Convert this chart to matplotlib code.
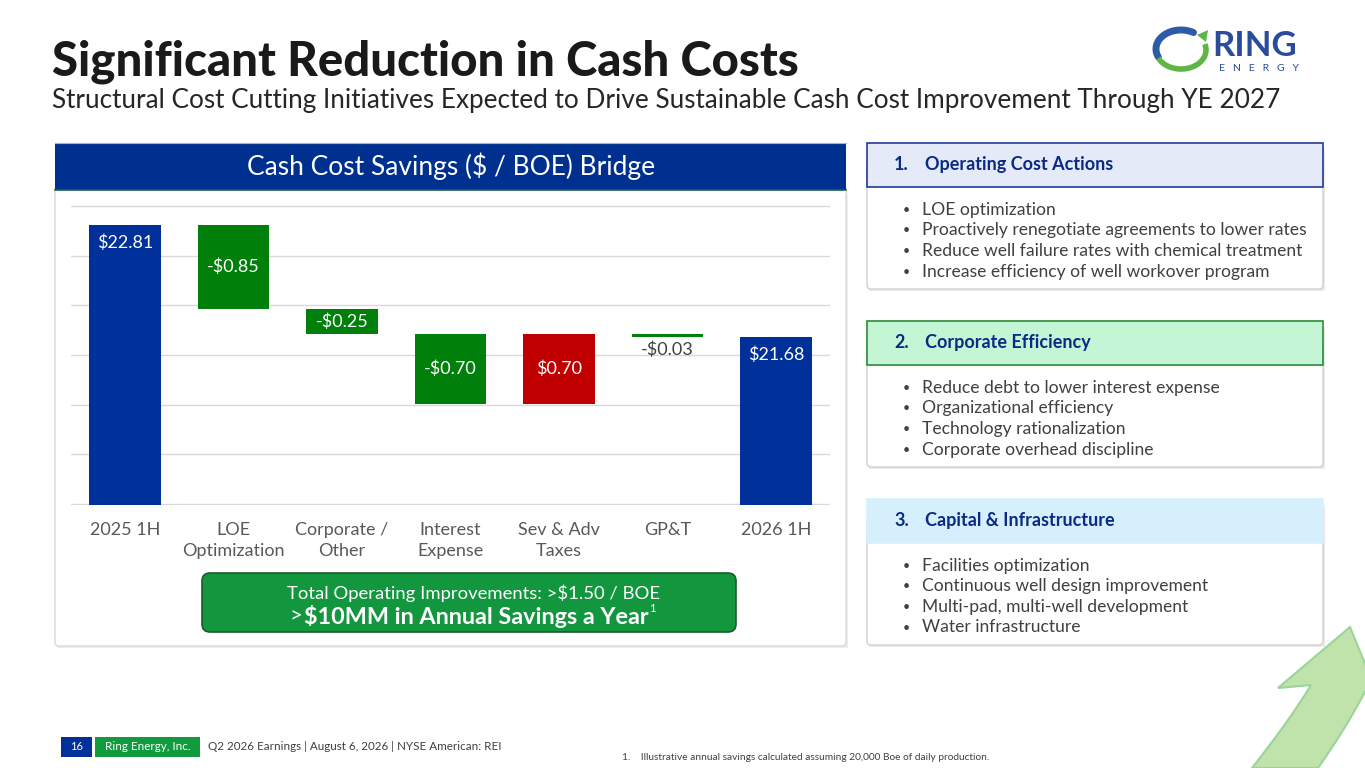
import numpy as np
import matplotlib.pyplot as plt
from matplotlib import font_manager
from matplotlib.patches import FancyBboxPatch, Rectangle, Polygon, PathPatch
from matplotlib.path import Path

plt.rcParams['font.family'] = ['Lato', 'DejaVu Sans']
plt.rcParams['text.parse_math'] = False

avail = {f.name for f in font_manager.fontManager.ttflist}
COND = ['Liberation Sans Narrow', 'Lato', 'DejaVu Sans'] if 'Liberation Sans Narrow' in avail else ['Lato', 'DejaVu Sans']

# waterfall data ($ / BOE)
categories = ["2025 1H", "LOE\nOptimization", "Corporate /\nOther", "Interest\nExpense",
              "Sev & Adv\nTaxes", "GP&T", "2026 1H"]
start_value = 22.81
changes = [-0.85, -0.25, -0.70, 0.70, -0.03]
end_value = 21.68

# right hand side text
panels = [
    ("1.", "Operating Cost Actions", ["LOE optimization",
                                      "Proactively renegotiate agreements to lower rates",
                                      "Reduce well failure rates with chemical treatment",
                                      "Increase efficiency of well workover program"]),
    ("2.", "Corporate Efficiency", ["Reduce debt to lower interest expense",
                                    "Organizational efficiency",
                                    "Technology rationalization",
                                    "Corporate overhead discipline"]),
    ("3.", "Capital & Infrastructure", ["Facilities optimization",
                                        "Continuous well design improvement",
                                        "Multi-pad, multi-well development",
                                        "Water infrastructure"]),
]

BLUE = '#00309A'
GREEN = '#007F0A'
RED = '#C00000'
TXT = '#404040'

W, H = 1365, 768
fig = plt.figure(figsize=(13.65, 7.68), dpi=100)

# overlay axes in pixel coordinates for slide decoration
ov = fig.add_axes([0, 0, 1, 1], zorder=0)
ov.set_xlim(0, W)
ov.set_ylim(H, 0)
ov.axis('off')


def rbox(x0, y0, x1, y1, fc, ec, r=4, lw=1.0, z=1):
    p = FancyBboxPatch((x0, y0), x1 - x0, y1 - y0, boxstyle=f"round,pad=0,rounding_size={r}",
                       fc=fc, ec=ec, lw=lw, zorder=z)
    ov.add_patch(p)
    return p


# title
ov.text(52, 75, "Significant Reduction in Cash Costs", fontsize=34, fontweight='black',
        color='#1A1A1A', va='baseline', ha='left')
ov.text(52, 108, "Structural Cost Cutting Initiatives Expected to Drive Sustainable Cash Cost Improvement Through YE 2027",
        fontsize=18.8, color='#262626', va='baseline', ha='left')

# logo
cx, cy, a, b = 1181, 49, 25, 19
t = np.linspace(np.radians(60), np.radians(205), 60)
ov.plot(cx + a * np.cos(t), cy - b * np.sin(t), color='#2D5BA8', lw=5, solid_capstyle='round', zorder=3)
t = np.linspace(np.radians(205), np.radians(378), 60)
ov.plot(cx + a * np.cos(t), cy - b * np.sin(t) + 1, color='#5DB646', lw=4, solid_capstyle='butt', zorder=3)
ov.add_patch(Polygon([[1197, 35], [1208, 30], [1206, 42]], closed=True, fc='#5DB646', ec='none', zorder=3))
ov.text(1212, 56, "RING", fontsize=25, fontweight='bold', color='#2B4C9B', va='baseline', ha='left')
ov.text(1219, 71, "E   N   E   R   G   Y", fontsize=7.5, color='#2B4C9B', va='baseline', ha='left')

# left panel
ov.add_patch(Rectangle((57, 193), 791, 455, fc='#EDEDED', ec='none', zorder=0.5))
rbox(55, 186, 846, 646, 'white', '#D9D9D9', r=4, z=1)
ov.add_patch(Rectangle((55, 143), 791, 47, fc='#00308F', ec='none', zorder=2))
ov.plot([55, 846], [190, 190], color='#1F5F4F', lw=1.2, zorder=2)
ov.plot([55, 846], [143, 143], color='#8FC9A8', lw=0.8, zorder=2)
ov.text(451, 166, "Cash Cost Savings ($ / BOE) Bridge", fontsize=19, color='white',
        ha='center', va='center', zorder=3)

# callout
rbox(202, 573, 736, 632, '#13973E', '#1D5A2C', r=8, lw=1.2, z=2)
ov.text(474, 593, "Total Operating Improvements: >$1.50 / BOE", fontsize=13.3, family=COND,
        color='white', ha='center', va='center', zorder=3)
l2a = ov.text(290, 616, ">", fontsize=16, color='white', ha='left', va='center', zorder=3)
l2b = ov.text(304, 616, "$10MM in Annual Savings a Year", fontsize=16.8, fontweight='bold',
              color='white', ha='left', va='center', zorder=3)
fig.canvas.draw()
bb = l2b.get_window_extent()
x_end = ov.transData.inverted().transform((bb.x1, bb.y0))[0]
ov.text(x_end + 1, 609, "1", fontsize=8, color='white', ha='left', va='center', zorder=3)

# right panels
hdr_styles = [('#E4EAF8', '#23399A'), ('#C4F5D4', '#2B8C36'), ('#D5F0FC', '#D5F0FC')]
tops = [143, 321, 499]
for (num, head, items), (fc, ec), y0 in zip(panels, hdr_styles, tops):
    ov.add_patch(Rectangle((869, y0 + 6), 456, 142, fc='#EBEBEB', ec='none', zorder=0.5))
    rbox(867, y0 + 20, 1323, y0 + 146, 'white', '#D0D0D0', r=4, z=1)
    ov.add_patch(Rectangle((867, y0), 456, 44, fc=fc, ec=ec, lw=1.2, zorder=2))
    ov.text(894, y0 + 27, num, fontsize=13, fontweight='bold', color='#0A2A84',
            ha='left', va='baseline', zorder=3)
    ov.text(925, y0 + 27, head, fontsize=13, fontweight='bold', color='#0A2A84',
            ha='left', va='baseline', zorder=3)
    for i, item in enumerate(items):
        yy = y0 + 67 + i * 20.5
        ov.text(903, yy, "\u2022", fontsize=9, color=TXT, ha='left', va='center', zorder=3)
        ov.text(922, yy, item, fontsize=12.6, color=TXT, ha='left', va='center', zorder=3)

# decorative arrow bottom right
verts = [(1252, 768), (1290, 720), (1311, 685), (1278, 688), (1350, 627), (1380, 700),
         (1366, 690), (1345, 730), (1318, 768), (1252, 768)]
codes = [Path.MOVETO, Path.CURVE3, Path.CURVE3, Path.LINETO, Path.LINETO, Path.LINETO,
         Path.LINETO, Path.CURVE3, Path.CURVE3, Path.CLOSEPOLY]
ov.add_patch(PathPatch(Path(verts, codes), fc='#BFE3AA', ec='#9BD49B', lw=1.5, zorder=1))

# footer
ov.add_patch(Rectangle((61, 737), 31, 20, fc=BLUE, ec='none'))
ov.text(76.5, 747, "16", fontsize=8, color='white', ha='center', va='center')
ov.add_patch(Rectangle((95, 737), 105, 20, fc='#119B3F', ec='none'))
ov.text(147.5, 747, "Ring Energy, Inc.", fontsize=8.4, color='white', ha='center', va='center')
ov.text(208, 747, "Q2 2026 Earnings | August 6, 2026 | NYSE American: REI", fontsize=8.4,
        color='#404040', ha='left', va='center')
ov.text(622, 758, "1.    Illustrative annual savings calculated assuming 20,000 Boe of daily production.",
        fontsize=7.3, color='#404040', ha='left', va='center')

# waterfall chart
ax = fig.add_axes([70.75 / W, (H - 505) / H, 759.5 / W, 300 / H], zorder=1)
ax.patch.set_alpha(0)

x = np.arange(len(categories))
levels = start_value + np.concatenate([[0], np.cumsum(changes)])
heights = [start_value] + [abs(c) for c in changes] + [end_value]
bottoms = [0] + [min(levels[i], levels[i + 1]) for i in range(len(changes))] + [0]
colors = [BLUE] + [GREEN if c < 0 else RED for c in changes] + [BLUE]
ax.bar(x, heights, bottom=bottoms, width=0.66, color=colors, zorder=3)

ax.set_xlim(-0.5, 6.5)
ax.set_ylim(19.99, 23.01)
ax.set_yticks(np.arange(20, 23.01, 0.5))
ax.yaxis.grid(True, color='#D9D9D9', lw=1)
ax.set_axisbelow(True)
ax.tick_params(axis='y', length=0, labelleft=False)
ax.tick_params(axis='x', length=0, pad=12, labelcolor='#595959')
ax.set_xticks(x)
ax.set_xticklabels(categories, fontsize=13, family=COND, linespacing=1.4, va='top')
for s in ax.spines.values():
    s.set_visible(False)

lbl = dict(fontsize=13, family=COND, ha='center', va='center', zorder=4)
ax.text(x[0], start_value - 0.18, f"${start_value:.2f}", color='white', **lbl)
ax.text(x[-1], end_value - 0.18, f"${end_value:.2f}", color='white', **lbl)
for i, c in enumerate(changes):
    s = f"-${abs(c):.2f}" if c < 0 else f"${c:.2f}"
    if abs(c) >= 0.1:
        ax.text(x[i + 1], (levels[i] + levels[i + 1]) / 2, s, color='white', **lbl)
    else:
        ax.text(x[i + 1], min(levels[i], levels[i + 1]) - 0.13, s, color='#404040', **lbl)

fig.savefig('out.png', dpi=100)
